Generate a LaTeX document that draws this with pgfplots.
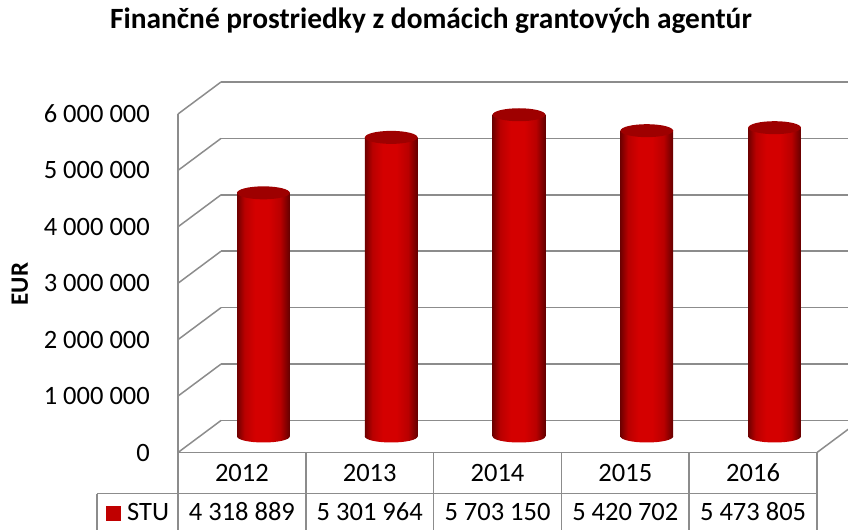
\documentclass[border=0pt]{standalone}
\usepackage{pgfplots}
\usepackage{pgfplotstable}
\pgfplotsset{compat=1.18}
\pgfplotsset{scaled y ticks=false, scaled x ticks=false}
\usepackage{fontspec}
\setmainfont{Carlito}
\definecolor{gridc}{RGB}{140,140,140}
\definecolor{cylE}{RGB}{112,0,0}
\definecolor{cylB}{RGB}{185,0,0}
\definecolor{cylC}{RGB}{212,0,0}
\definecolor{cylE2}{RGB}{100,0,0}
\definecolor{cyltopc}{RGB}{158,0,0}
\definecolor{legred}{RGB}{192,0,0}
\pgfdeclarehorizontalshading{cyl}{100bp}{color(0bp)=(cylE); color(25bp)=(cylE); color(32bp)=(cylB); color(42bp)=(cylC); color(55bp)=(cylC); color(66bp)=(cylB); color(75bp)=(cylE2); color(100bp)=(cylE2)}
\pgfdeclareplotmark{cylbot}{\pgfpathellipse{\pgfpointorigin}{\pgfqpoint{26.3pt}{0pt}}{\pgfqpoint{0pt}{6pt}}\pgfshadepath{cyl}{0}\pgfusepath{discard}}
\pgfdeclareplotmark{cyltop}{\pgfpathellipse{\pgfpointorigin}{\pgfqpoint{26.3pt}{0pt}}{\pgfqpoint{0pt}{6.5pt}}\pgfusepathqfill}
\pgfplotstableread{
x y
0.5 4318889
1.5 5301964
2.5 5703150
3.5 5420702
4.5 5473805
}\datatable
\begin{document}
\begin{tikzpicture}[x=1pt,y=1pt]
\useasboundingbox (0,0) rectangle (848,530);
\clip (0,0) rectangle (848,530);
% back wall grid
\begin{axis}[at={(221pt,109.5pt)}, anchor=south west, scale only axis,
  width=639pt, height=338.5pt, xmin=0, xmax=5, ymin=0, ymax=6000000,
  axis line style={draw=none}, major tick length=0pt,
  ytick={0,1000000,2000000,3000000,4000000,5000000,6000000}, yticklabels={}, xtick=\empty,
  ymajorgrids, grid style={gridc, line width=1.5pt}]
\end{axis}
% left wall diagonals and floor
\foreach \k in {0,...,6} \draw[gridc, line width=1.5pt] (178,77.5+\k*56.4167) -- ++(43,32);
\draw[gridc, line width=1.5pt] (817,77.5) -- ++(43,32);
% bars
\begin{axis}[at={(199.5pt,93.5pt)}, anchor=south west, scale only axis,
  width=639pt, height=338.5pt, xmin=0, xmax=5, ymin=0, ymax=6000000,
  hide axis, clip=false]
\addplot[only marks, mark=cylbot] coordinates {(0.5,0) (1.5,0) (2.5,0) (3.5,0) (4.5,0)};
\addplot[ybar, bar width=52.6pt, bar shift=0pt, draw=none, shade, shading=cyl, restrict x to domain=0:1] table[x=x, y=y] {\datatable};
\addplot[ybar, bar width=52.6pt, bar shift=0pt, draw=none, shade, shading=cyl, restrict x to domain=1:2] table[x=x, y=y] {\datatable};
\addplot[ybar, bar width=52.6pt, bar shift=0pt, draw=none, shade, shading=cyl, restrict x to domain=2:3] table[x=x, y=y] {\datatable};
\addplot[ybar, bar width=52.6pt, bar shift=0pt, draw=none, shade, shading=cyl, restrict x to domain=3:4] table[x=x, y=y] {\datatable};
\addplot[ybar, bar width=52.6pt, bar shift=0pt, draw=none, shade, shading=cyl, restrict x to domain=4:5] table[x=x, y=y] {\datatable};
\addplot[only marks, mark=cyltop, mark options={fill=cyltopc, draw=none}] table[x=x, y=y] {\datatable};
\end{axis}
% front: tick labels, title, y label
\begin{axis}[at={(178pt,77.5pt)}, anchor=south west, scale only axis,
  width=639pt, height=338.5pt, xmin=0, xmax=5, ymin=0, ymax=6000000,
  axis line style={draw=none}, major tick length=0pt,
  ytick={0,1000000,2000000,3000000,4000000,5000000,6000000},
  yticklabels={0,1 000 000,2 000 000,3 000 000,4 000 000,5 000 000,6 000 000},
  yticklabel style={anchor=east, inner sep=0pt, xshift=-28pt},
  xtick={0.5,1.5,2.5,3.5,4.5}, xticklabels={2012,2013,2014,2015,2016},
  xticklabel style={anchor=center, inner sep=0pt, yshift=-20.5pt},
  ticklabel style={font=\fontsize{26.5}{30}\selectfont},
  title={Finančné prostriedky z domácich grantových agentúr},
  title style={at={(axis description cs:0.3959,1.2363)}, anchor=base, inner sep=0pt, font=\bfseries\fontsize{29.4}{34}\selectfont},
  ylabel={EUR},
  ylabel style={at={(axis description cs:-0.2473,0.4978)}, rotate=0, anchor=center, inner sep=0pt, font=\bfseries\fontsize{25}{28}\selectfont}]
\end{axis}
% data table values row
\begin{axis}[at={(178pt,77.5pt)}, anchor=south west, scale only axis,
  width=639pt, height=338.5pt, xmin=0, xmax=5, ymin=0, ymax=6000000,
  axis line style={draw=none}, major tick length=0pt, ytick=\empty,
  xtick={0.5,1.5,2.5,3.5,4.5},
  xticklabels={4 318 889,5 301 964,5 703 150,5 420 702,5 473 805},
  xticklabel style={anchor=center, inner sep=0pt, yshift=-59.2pt},
  ticklabel style={font=\fontsize{26.5}{30}\selectfont}]
\end{axis}
% table lines
\draw[gridc, line width=1.5pt] (178,416) -- (178,0);
\draw[gridc, line width=1.5pt] (178,77.5) -- (817,77.5);
\draw[gridc, line width=1.5pt] (97,36.5) -- (817,36.5);
\draw[gridc, line width=1.5pt] (97,36.5) -- (97,0);
\foreach \xx in {305.8,433.6,561.4,689.2,817} \draw[gridc, line width=1.5pt] (\xx,77.5) -- (\xx,0);
% legend
\fill[legred] (106,9) rectangle (121,24);
\node[anchor=west, inner sep=0pt, font=\fontsize{26.5}{30}\selectfont] at (127,18.5) {STU};
\end{tikzpicture}
\end{document}
